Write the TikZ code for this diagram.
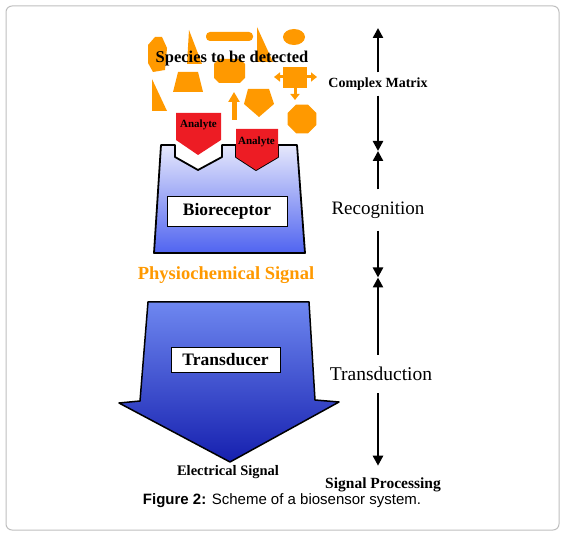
\documentclass[tikz,border=0pt]{standalone}
\usepackage{fontspec}
\setmainfont{Liberation Serif}
\newfontfamily\capfont{Liberation Sans}
\usetikzlibrary{arrows.meta}
\definecolor{species}{RGB}{255,153,0}
\definecolor{analyte}{RGB}{237,28,36}
\definecolor{bioTop}{RGB}{230,232,252}
\definecolor{bioBot}{RGB}{80,100,240}
\definecolor{trdTop}{RGB}{110,135,240}
\definecolor{trdBot}{RGB}{22,32,175}
\begin{document}
\begin{tikzpicture}[x=1pt,y=-1pt,
  block/.style={draw=black,line width=1.8pt,line join=round},
  labelbox/.style={draw=black,fill=white,line width=0.8pt,inner sep=0pt},
  stage/.style={line width=2.4pt,-{Triangle[length=10pt,width=10pt]}},
  stagelabel/.style={inner xsep=0pt}]
\useasboundingbox (0,0) rectangle (565,534);
\draw[black!25,line width=1pt,rounded corners=6pt] (6,6) rectangle (559,530);
%\node at (232,20) {Complex Matrix};
\fill[species] (148,45) -- (155,37) -- (162,37) -- (167,48) -- (165,70) -- (153,72) -- (148,63) -- cycle;
\fill[species] (189,30) -- (202,64) -- (187,64) -- cycle;
\fill[species,rounded corners=4pt] (206,32) rectangle (253,41);
\fill[species] (257,27) -- (273,62) -- (257,62) -- cycle;
\fill[species] (294,37) ellipse (11 and 8);
\fill[species] (219,59) -- (240,59) -- (245,64) -- (245,78) -- (240,83) -- (219,83) -- (214,78) -- (214,64) -- cycle;
\fill[species] (283,67) rectangle (307,88);
\draw[species,line width=3pt,-{Triangle[length=6pt,width=9pt]}] (284,77) -- (274,77);
\draw[species,line width=3pt,-{Triangle[length=6pt,width=9pt]}] (306,77) -- (317,77);
\draw[species,line width=3pt,-{Triangle[length=6pt,width=9pt]}] (295,87) -- (295,100);
\fill[species] (178,72) -- (198,72) -- (203,92) -- (173,92) -- cycle;
\fill[species] (152,79) -- (167,111) -- (152,111) -- cycle;
\draw[species,line width=5pt,-{Triangle[length=10pt,width=11pt]}] (234,120) -- (234,92);
\fill[species] (248,89) -- (269,89) -- (274,104) -- (259,117) -- (244,104) -- cycle;
\fill[species] (302,119) +(22.5:15.5) -- +(67.5:15.5) -- +(112.5:15.5) -- +(157.5:15.5)
  -- +(202.5:15.5) -- +(247.5:15.5) -- +(292.5:15.5) -- +(337.5:15.5) -- cycle;
\node[font=\fontsize{16.5}{18}\selectfont\bfseries] (species) at (232,59) {Species to be detected};
\draw[block,top color=bioTop,bottom color=bioBot] (161,145) -- (175,145) -- (175,157) -- (198,170)
  -- (222,157) -- (222,145) -- (236,145) -- (236,157) -- (256,170) -- (278,157) -- (278,145)
  -- (297,145) -- (305,253) -- (154,253) -- cycle;
\fill[analyte] (176,113) -- (221,113) -- (221,140) -- (198,155) -- (176,140) -- cycle;
\fill[analyte] (236,129) -- (278,129) -- (278,157) -- (256,170) -- (236,157) -- cycle;
\node[font=\fontsize{11}{12}\selectfont\bfseries] (an1) at (198.5,125) {Analyte};
\node[font=\fontsize{11}{12}\selectfont\bfseries] (an2) at (256.5,142) {Analyte};
\node[labelbox,minimum width=120pt,minimum height=30pt,font=\fontsize{17.5}{19}\selectfont\bfseries] (bio) at (227,211) {Bioreceptor};
\node[text=species,font=\fontsize{18.5}{20}\selectfont\bfseries] (phys) at (226,275) {Physiochemical Signal};
\draw[block,line width=1.5pt,top color=trdTop,bottom color=trdBot] (148,302) -- (309,302) -- (315,400)
  -- (339,402) -- (230,462) -- (119,403) -- (140,401) -- cycle;
\node[labelbox,minimum width=109pt,minimum height=25pt,font=\fontsize{17.5}{19}\selectfont\bfseries] (trans) at (225.5,359.5) {Transducer};
\node[font=\fontsize{14.5}{16}\selectfont\bfseries] (elec) at (228,472) {Electrical Signal};
\coordinate (m1) at (378,28);
\coordinate (m2) at (378,151);
\coordinate (m3) at (378,277.5);
\node[stagelabel,inner ysep=5pt,font=\fontsize{14}{15}\selectfont\bfseries] (cm) at (378,84) {Complex Matrix};
\node[stagelabel,inner ysep=12pt,font=\fontsize{19}{20}\selectfont] (rec) at (378,210) {Recognition};
\node[stagelabel,inner ysep=12pt,font=\fontsize{19.5}{20}\selectfont] (trd) at (381,374) {Transduction};
\node[stagelabel,inner ysep=12pt,font=\fontsize{15.5}{17}\selectfont\bfseries] (sp) at (383,485) {Signal Processing};
\draw[stage] (cm) -- (m1);
\draw[stage] (cm) -- (m2);
\draw[stage] (rec) -- (m2);
\draw[stage] (rec) -- (m3);
\draw[stage] (trd.north-|m3) -- (m3);
\draw[stage] (trd.south-|m3) -- (sp.north-|m3);
\node[font=\capfont\fontsize{15}{17}\selectfont] (cap) at (282,500.5) {\textbf{Figure 2:} Scheme of a biosensor system.};
\end{tikzpicture}
\end{document}
